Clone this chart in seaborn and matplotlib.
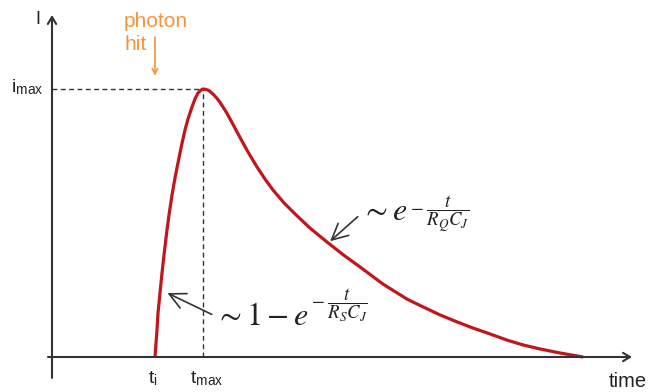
import matplotlib
matplotlib.use("Agg")
import matplotlib.pyplot as plt
import seaborn as sns
import pandas as pd

# Current pulse after a photon hit (time in arbitrary units, current normalised to i_max)
time_vals = [10.3, 10.5, 10.6, 10.8, 11.0, 11.2, 11.5, 11.7, 12.0, 12.3, 12.6, 12.9,
             13.3, 13.6, 14.0, 14.3, 14.6, 14.9, 15.1, 15.3, 15.6, 15.8, 16.1, 16.5,
             16.8, 17.2, 17.5, 18.1, 18.8, 19.6, 20.5, 21.3, 22.1, 23.2, 24.3, 25.8,
             27.5, 29.1, 30.8, 33.1, 35.5, 37.1, 38.8, 40.5, 42.1, 43.8, 45.5, 47.1,
             48.8, 50.8, 53.1]
current_vals = [0.0, 0.101, 0.164, 0.239, 0.313, 0.381, 0.474, 0.530, 0.604, 0.668, 0.724, 0.780,
                0.847, 0.888, 0.933, 0.963, 0.985, 0.996, 1.0, 0.999, 0.996, 0.991, 0.981, 0.965,
                0.950, 0.927, 0.909, 0.868, 0.819, 0.765, 0.709, 0.664, 0.623, 0.575, 0.534, 0.481,
                0.429, 0.382, 0.336, 0.272, 0.216, 0.187, 0.157, 0.131, 0.108, 0.086, 0.063, 0.045,
                0.030, 0.015, 0.0]
t_hit = 10.3
t_peak = 15.1
i_peak = 1.0

df = pd.DataFrame({"time": time_vals, "I": current_vals})

sns.set_style("white")
plt.rcParams["font.family"] = ["Liberation Sans", "DejaVu Sans"]
plt.rcParams["mathtext.fontset"] = "stix"

fig = plt.figure(figsize=(6.5, 3.92), dpi=100)
ax = fig.add_axes([0, 0, 1, 1])
ax.set_xlim(-5.2, 59.8)
ax.set_ylim(-0.1306, 1.332)
ax.axis("off")

axis_col = "#333333"
text_col = "#222222"
red = "#c0161c"
orange = "#f7943a"

# axes with open arrow heads
ax.annotate("", xy=(0, 1.276), xytext=(0, -0.078),
            arrowprops=dict(arrowstyle="->,head_length=0.5,head_width=0.3",
                            color=axis_col, lw=1.5, shrinkA=0, shrinkB=0))
ax.annotate("", xy=(58.0, 0), xytext=(-0.4, 0),
            arrowprops=dict(arrowstyle="->,head_length=0.5,head_width=0.3",
                            color=axis_col, lw=1.5, shrinkA=0, shrinkB=0))

# guide lines to the maximum
ax.plot([0, t_peak], [i_peak, i_peak], color=axis_col, lw=1, dashes=(3.5, 2.5))
ax.plot([t_peak, t_peak], [0, i_peak], color=axis_col, lw=1, dashes=(3.5, 2.5))

# pulse
sns.lineplot(data=df, x="time", y="I", ax=ax, color=red, lw=2.3, sort=False,
             solid_capstyle="butt", solid_joinstyle="round")

# labels
ax.text(-1.4, 1.261, "I", ha="center", va="center", fontsize=13, color=text_col)
ax.text(-4.1, 0.989, r"i$_\mathregular{max}$", ha="left", va="baseline",
        fontsize=14, color=text_col)
ax.text(9.6, -0.1, r"t$_\mathregular{i}$", ha="left", va="baseline",
        fontsize=14, color=text_col)
ax.text(13.8, -0.1, r"t$_\mathregular{max}$", ha="left", va="baseline",
        fontsize=14, color=text_col)
ax.text(55.7, -0.112, "time", ha="left", va="baseline", fontsize=14.5, color=text_col)

ax.text(7.2, 1.231, "photon", ha="left", va="baseline", fontsize=15, color=orange)
ax.text(7.2, 1.146, "hit", ha="left", va="baseline", fontsize=15, color=orange)
ax.annotate("", xy=(t_hit, 1.049), xytext=(t_hit, 1.194),
            arrowprops=dict(arrowstyle="->,head_length=0.4,head_width=0.2",
                            color=orange, lw=1.2, shrinkA=0, shrinkB=0))


def formula(base, exponent, tip, pos, relpos):
    """Large base expression with a display-style fraction as its exponent."""
    main = ax.annotate(base, xy=tip, xytext=pos, fontsize=23, color=text_col,
                       ha="left", va="baseline",
                       arrowprops=dict(arrowstyle="->,head_length=0.5,head_width=0.25",
                                       color=axis_col, lw=1.2, shrinkA=0, shrinkB=2,
                                       relpos=relpos))
    ax.annotate(exponent, xy=(1, 0), xycoords=main, xytext=(2, 19),
                textcoords="offset points", fontsize=13.5, color=text_col,
                ha="left", va="center")


# asymptotic forms of rise and decay
formula(r"$\sim 1-e$", r"$-\;\dfrac{t}{R_S C_J}$", (11.3, 0.243), (16.3, 0.12), (0.02, 0.5))
formula(r"$\sim e$", r"$-\;\dfrac{t}{R_Q C_J}$", (27.6, 0.425), (30.9, 0.51), (0.0, 0.45))

fig.savefig("out.png", dpi=100, facecolor="white")
